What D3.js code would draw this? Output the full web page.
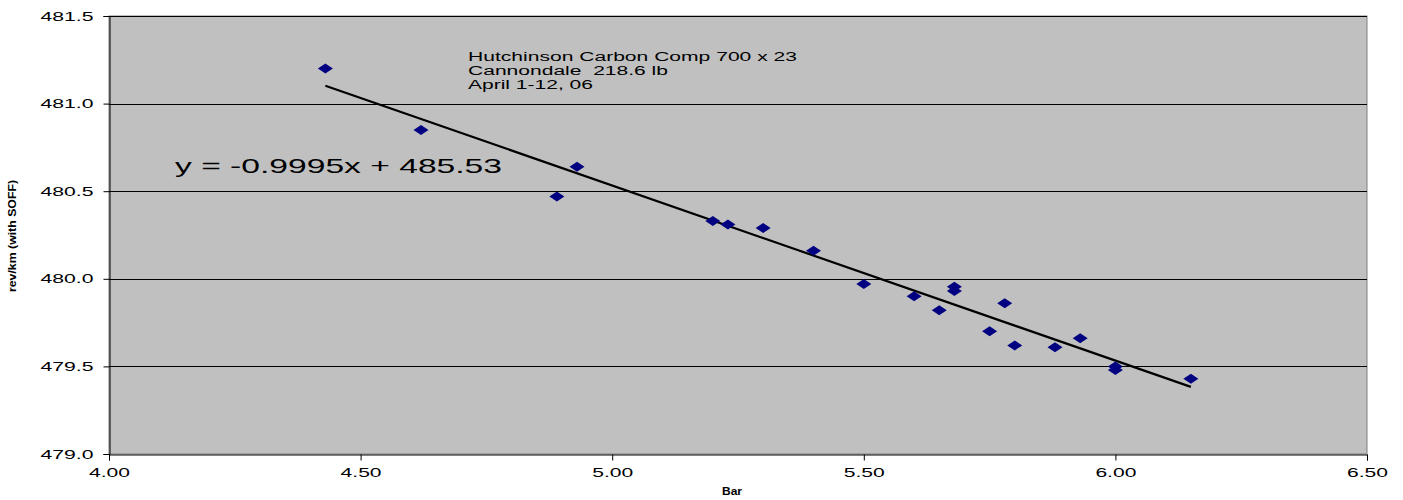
<!DOCTYPE html>
<html><head><meta charset="utf-8">
<script src="https://cdn.jsdelivr.net/npm/d3@7"></script>
<style>body{margin:0;background:#fff}svg{display:block;font-family:"Liberation Sans",Arial,sans-serif}text{white-space:pre}</style>
</head><body><svg id="c" width="1403" height="500"></svg>
<script>
const xVals = [4.43,4.62,4.89,4.93,5.20,5.23,5.30,5.40,5.50,5.60,5.65,5.68,5.68,5.75,5.78,5.80,5.88,5.93,6.00,6.00,6.15];
const yVals = [481.20,480.85,480.47,480.64,480.33,480.31,480.29,480.16,479.97,479.90,479.82,479.955,479.93,479.70,479.86,479.62,479.61,479.66,479.50,479.48,479.43];
const xTicks = [4.00,4.50,5.00,5.50,6.00,6.50];
const yTicks = [479.0,479.5,480.0,480.5,481.0,481.5];
const slope = -0.9995, intercept = 485.53;
const eqLabel = "y = -0.9995x + 485.53";
const noteLines = ["Hutchinson Carbon Comp 700 x 23","Cannondale  218.6 lb","April 1-12, 06"];
const xTitle = "Bar", yTitle = "rev/km (with SOFF)";

const svg = d3.select("#c");
const L=109,R=1367,T=16,B=454;
const x = d3.scaleLinear().domain([4,6.5]).range([L,R]);
const y = d3.scaleLinear().domain([479,481.5]).range([B,T]);
function fit(sel, sx){ sel.each(function(){ const w=this.getComputedTextLength(); if(w>0){ this.setAttribute("textLength",w*sx); this.setAttribute("lengthAdjust","spacingAndGlyphs"); } }); }

svg.append("rect").attr("x",L).attr("y",T).attr("width",R-L).attr("height",B-T).attr("fill","#c0c0c0").attr("stroke","#808080").attr("stroke-width",1);
svg.append("g").selectAll("line").data(yTicks.slice(1)).join("line")
  .attr("x1",L).attr("x2",R).attr("y1",d=>Math.round(y(d))+0.5).attr("y2",d=>Math.round(y(d))+0.5).attr("stroke","#000").attr("stroke-width",1);

const ya = svg.append("g").attr("transform",`translate(${L+0.5},0)`)
  .call(d3.axisLeft(y).tickValues(yTicks).tickFormat(d3.format(".1f")).tickSize(6).tickPadding(10));
const xa = svg.append("g").attr("transform",`translate(0,${B+0.5})`)
  .call(d3.axisBottom(x).tickValues(xTicks).tickFormat(d3.format(".2f")).tickSize(6).tickPadding(7));
[ya,xa].forEach(a=>{a.selectAll("text").attr("font-size",13).attr("fill","#000").attr("font-family","Liberation Sans, Arial, sans-serif")
  .attr("textLength", a===ya?53:41).attr("lengthAdjust","spacingAndGlyphs");
  a.selectAll("line").attr("stroke","#000"); a.select(".domain").attr("stroke","#000");});

// trendline
svg.append("line").attr("x1",x(4.43)).attr("y1",y(slope*4.43+intercept))
  .attr("x2",x(6.15)).attr("y2",y(slope*6.15+intercept)).attr("stroke","#000").attr("stroke-width",2.2);

// markers
const pts = xVals.map((v,i)=>[v,yVals[i]]);
svg.append("g").selectAll("path").data(pts).join("path")
  .attr("d","M0,-5L7.5,0L0,5L-7.5,0Z").attr("transform",d=>`translate(${x(d[0])},${y(d[1])})`).attr("fill","#000080");

const noteW = [329,200,125];
svg.append("text").attr("x",175).attr("y",173).attr("font-size",21).attr("textLength",327).attr("lengthAdjust","spacingAndGlyphs").text(eqLabel);
svg.append("g").selectAll("text").data(noteLines).join("text")
  .attr("x",468).attr("y",(d,i)=>61+i*14).attr("font-size",12.5).attr("textLength",(d,i)=>noteW[i]).attr("lengthAdjust","spacingAndGlyphs").text(d=>d);

svg.append("text").attr("x",732).attr("y",495).attr("text-anchor","middle").attr("font-size",11).attr("font-weight","bold").attr("textLength",20).attr("lengthAdjust","spacingAndGlyphs").text(xTitle);
svg.append("text").attr("transform","translate(16,236) rotate(-90)").attr("text-anchor","middle").attr("font-size",10).attr("font-weight","bold")
  .attr("textLength",112).attr("lengthAdjust","spacingAndGlyphs").text(yTitle);
</script></body></html>
